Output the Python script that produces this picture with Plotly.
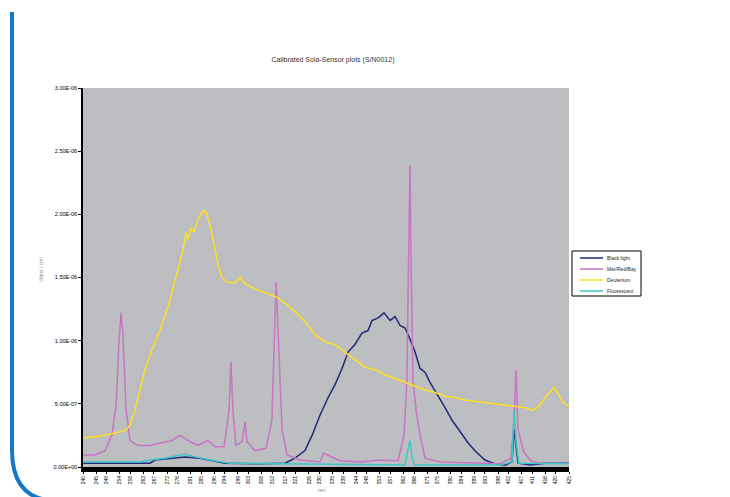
import plotly.graph_objects as go

# ---- data (wavelength nm, irradiance W/cm^2) ----
black_nm = [240, 265.5, 267.4, 278.8, 284.5, 288.3, 294.1, 307.4, 316.9, 320.7, 324.5, 327.2, 330.2, 333.3,
            335.9, 338.6, 340.9, 343.5, 346.2, 348.5, 350.0, 352.3, 354.6, 356.9, 358.8, 360.7, 362.6, 364.5,
            366.4, 368.3, 370.2, 372.1, 375.1, 377.8, 380.5, 383.5, 386.6, 389.6, 393.0, 396.8, 400.7, 403.3,
            404.1, 405.6, 410.2, 415.9, 425]
black_val = [0.03e-6, 0.03e-6, 0.055e-6, 0.08e-6, 0.07e-6, 0.055e-6, 0.03e-6, 0.025e-6, 0.03e-6, 0.07e-6,
             0.13e-6, 0.25e-6, 0.41e-6, 0.55e-6, 0.65e-6, 0.78e-6, 0.91e-6, 0.97e-6, 1.06e-6, 1.08e-6, 1.16e-6,
             1.18e-6, 1.22e-6, 1.16e-6, 1.19e-6, 1.12e-6, 1.10e-6, 1.01e-6, 0.91e-6, 0.78e-6, 0.75e-6, 0.67e-6,
             0.57e-6, 0.47e-6, 0.37e-6, 0.28e-6, 0.19e-6, 0.12e-6, 0.055e-6, 0.025e-6, 0.015e-6, 0.04e-6,
             0.30e-6, 0.03e-6, 0.015e-6, 0.03e-6, 0.03e-6]

merc_nm = [240, 244.6, 248.4, 251.0, 252.6, 253.7, 254.5, 255.2, 256.4, 257.9, 260.9, 265.5, 269.3, 273.9,
           276.9, 280.0, 283.8, 287.6, 290.3, 293.7, 295.6, 296.3, 297.1, 298.2, 300.5, 301.7, 302.4, 305.5,
           309.7, 311.9, 313.5, 314.6, 315.8, 317.7, 322.6, 330.2, 331.5, 337.8, 345.5, 353.1, 359.9, 362.2,
           363.3, 363.7, 364.5, 364.8, 365.6, 366.8, 368.3, 370.2, 375.9, 398.7, 402.9, 404.1, 404.8, 405.6,
           407.8, 410.4, 414.0, 425]
merc_val = [0.095e-6, 0.095e-6, 0.13e-6, 0.25e-6, 0.49e-6, 1.0e-6, 1.22e-6, 1.05e-6, 0.45e-6, 0.21e-6,
            0.17e-6, 0.17e-6, 0.19e-6, 0.21e-6, 0.25e-6, 0.21e-6, 0.17e-6, 0.21e-6, 0.16e-6, 0.16e-6, 0.45e-6,
            0.83e-6, 0.45e-6, 0.17e-6, 0.20e-6, 0.36e-6, 0.20e-6, 0.13e-6, 0.15e-6, 0.37e-6, 1.46e-6, 0.85e-6,
            0.29e-6, 0.095e-6, 0.055e-6, 0.04e-6, 0.11e-6, 0.05e-6, 0.04e-6, 0.055e-6, 0.05e-6, 0.25e-6, 0.69e-6,
            1.32e-6, 2.39e-6, 1.72e-6, 0.69e-6, 0.45e-6, 0.25e-6, 0.07e-6, 0.04e-6, 0.025e-6, 0.07e-6, 0.37e-6,
            0.77e-6, 0.29e-6, 0.12e-6, 0.05e-6, 0.03e-6, 0.03e-6]

deut_nm = [240.0, 244.6, 250.3, 256.0, 257.9, 259.8, 261.7, 263.6, 266.3, 269.3, 273.1, 276.2, 278.1, 279.2,
           280.0, 281.1, 282.3, 283.8, 285.7, 286.8, 288.3, 289.9, 291.4, 292.9, 295.2, 297.9, 299.8, 301.7,
           305.5, 309.3, 313.1, 316.9, 320.7, 324.5, 328.3, 332.1, 335.9, 339.7, 343.5, 347.4, 351.2, 355.0,
           358.8, 362.6, 366.4, 370.2, 374.0, 377.8, 381.6, 385.4, 389.2, 393.0, 396.8, 400.7, 404.5, 408.3,
           411.3, 414.0, 415.9, 417.8, 419.3, 420.8, 422.7, 425.0]
deut_val = [0.23e-6, 0.24e-6, 0.26e-6, 0.29e-6, 0.33e-6, 0.45e-6, 0.61e-6, 0.77e-6, 0.93e-6, 1.08e-6, 1.32e-6,
            1.56e-6, 1.72e-6, 1.86e-6, 1.80e-6, 1.89e-6, 1.86e-6, 1.96e-6, 2.03e-6, 2.02e-6, 1.92e-6, 1.76e-6,
            1.60e-6, 1.50e-6, 1.46e-6, 1.46e-6, 1.50e-6, 1.45e-6, 1.41e-6, 1.38e-6, 1.35e-6, 1.30e-6, 1.23e-6,
            1.15e-6, 1.05e-6, 0.99e-6, 0.97e-6, 0.91e-6, 0.85e-6, 0.79e-6, 0.77e-6, 0.73e-6, 0.70e-6, 0.67e-6,
            0.64e-6, 0.61e-6, 0.59e-6, 0.56e-6, 0.55e-6, 0.53e-6, 0.52e-6, 0.51e-6, 0.50e-6, 0.49e-6, 0.48e-6,
            0.47e-6, 0.45e-6, 0.49e-6, 0.55e-6, 0.59e-6, 0.63e-6, 0.58e-6, 0.51e-6, 0.48e-6]

fluo_nm = [240, 261.7, 265.5, 271.2, 276.9, 279.2, 282.6, 288.3, 295.9, 322.6, 345.5, 362.6, 363.3, 364.5,
           365.2, 366.0, 398.7, 403.3, 404.1, 404.8, 405.9, 425]
fluo_val = [0.04e-6, 0.04e-6, 0.055e-6, 0.07e-6, 0.095e-6, 0.10e-6, 0.08e-6, 0.055e-6, 0.03e-6, 0.025e-6,
            0.015e-6, 0.015e-6, 0.095e-6, 0.21e-6, 0.095e-6, 0.015e-6, 0.015e-6, 0.04e-6, 0.45e-6, 0.21e-6,
            0.03e-6, 0.025e-6]

series_names = ["Black light", "Mer/Red/Bay", "Deuterium", "Fluorescent"]
x_ticks = [240, 245, 249, 254, 258, 263, 267, 272, 276, 281, 285, 290, 294, 299, 303, 308, 312, 317, 321, 326,
           330, 335, 339, 344, 348, 353, 357, 362, 366, 371, 375, 380, 384, 389, 393, 398, 402, 407, 411, 416,
           420, 425]
y_ticks = [0, 5e-7, 1e-6, 1.5e-6, 2e-6, 2.5e-6, 3e-6]
y_tick_text = ["0.00E+00", "5.00E-07", "1.00E-06", "1.50E-06", "2.00E-06", "2.50E-06", "3.00E-06"]

colors = ["#1f2a7a", "#c774c4", "#ffe020", "#3cc8c8"]

fig = go.Figure()
for nm, val, name, col in zip([black_nm, merc_nm, deut_nm, fluo_nm],
                              [black_val, merc_val, deut_val, fluo_val], series_names, colors):
    fig.add_trace(go.Scatter(x=nm, y=val, mode="lines", name=name,
                             line=dict(color=col, width=1.5)))

font = "Liberation Sans, Arial, sans-serif"

# pixel (in the screenshot) -> paper coordinates of the plot area (x 83..569, y 88..467)
def px(x):
    return (x - 83) / 486

def py(y):
    return (467 - y) / 379

shapes = [
    dict(type="path", xref="paper", yref="paper",
         path=f"M {px(12)},{py(12)} L {px(12)},{py(450)} Q {px(12)},{py(494)} {px(46)},{py(500)}",
         line=dict(color="#1478c8", width=4)),
    dict(type="rect", xref="paper", yref="paper", x0=px(572), x1=px(641), y0=py(251), y1=py(296),
         fillcolor="white", line=dict(color="black", width=1)),
]
annotations = [
    dict(text="Watts / cm²", xref="paper", yref="paper", x=px(36), y=py(270), textangle=-90,
         showarrow=False, font=dict(size=5, color="#999999")),
    dict(text="nm", xref="paper", yref="paper", x=px(322), y=py(490), xanchor="center", yanchor="middle",
         showarrow=False, font=dict(size=5.5, color="#888888")),
]
for i, (name, col) in enumerate(zip(series_names, colors)):
    yy = 258 + i * 11
    shapes.append(dict(type="line", xref="paper", yref="paper", x0=px(580), x1=px(603), y0=py(yy), y1=py(yy),
                       line=dict(color=col, width=1.5)))
    annotations.append(dict(text=name, xref="paper", yref="paper", x=px(605), y=py(yy), xanchor="left",
                            yanchor="middle", showarrow=False, font=dict(size=5, color="#222222")))

fig.update_layout(
    width=730, height=497,
    margin=dict(l=75, r=169, t=80, b=38),
    paper_bgcolor="white", plot_bgcolor="#bcbec1",
    font=dict(family=font, size=6, color="black"),
    title=dict(text="Calibrated Sola-Sensor plots (S/N0012)", x=325 / 730, xanchor="center",
               y=1 - 52 / 497, yanchor="middle", font=dict(size=7, color="#333333")),
    showlegend=False,
    xaxis=dict(range=[240, 425], tickvals=x_ticks, ticktext=[str(t) for t in x_ticks],
               tickangle=-90, tickfont=dict(size=5), showgrid=False, zeroline=False,
               showline=True, linecolor="black", linewidth=5, ticks="outside", ticklen=2,
               tickcolor="black"),
    yaxis=dict(range=[0, 3e-6], tickvals=y_ticks, ticktext=y_tick_text, showgrid=False,
               zeroline=False, showline=True, linecolor="black", linewidth=1.5, ticks="outside",
               ticklen=3, tickcolor="black", tickfont=dict(size=5.5)),
    annotations=annotations,
    shapes=shapes,
)

fig.write_html("out.html")
